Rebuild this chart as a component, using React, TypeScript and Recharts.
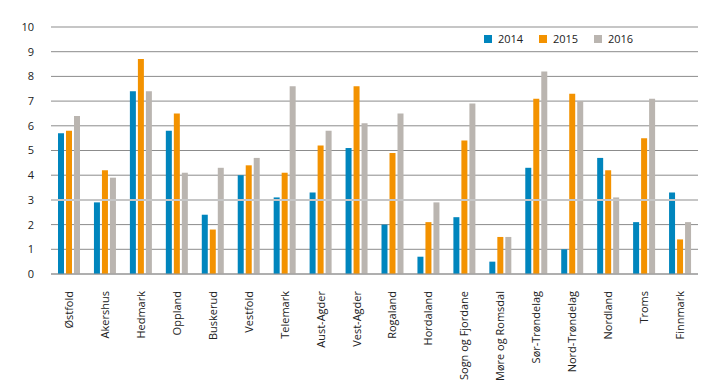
import { BarChart, Bar, XAxis, YAxis, CartesianGrid, Legend, ReferenceLine } from 'recharts';

const fylker = [
  'Østfold', 'Akershus', 'Hedmark', 'Oppland', 'Buskerud', 'Vestfold', 'Telemark', 'Aust-Agder', 'Vest-Agder',
  'Rogaland', 'Hordaland', 'Sogn og Fjordane', 'Møre og Romsdal', 'Sør-Trøndelag', 'Nord-Trøndelag',
  'Nordland', 'Troms', 'Finnmark',
];
const v2014 = [5.7, 2.9, 7.4, 5.8, 2.4, 4.0, 3.1, 3.3, 5.1, 2.0, 0.7, 2.3, 0.5, 4.3, 1.0, 4.7, 2.1, 3.3];
const v2015 = [5.8, 4.2, 8.7, 6.5, 1.8, 4.4, 4.1, 5.2, 7.6, 4.9, 2.1, 5.4, 1.5, 7.1, 7.3, 4.2, 5.5, 1.4];
const v2016 = [6.4, 3.9, 7.4, 4.1, 4.3, 4.7, 7.6, 5.8, 6.1, 6.5, 2.9, 6.9, 1.5, 8.2, 7.0, 3.1, 7.1, 2.1];
const yTicks = [0, 1, 2, 3, 4, 5, 6, 7, 8, 9, 10];

const series = [
  { key: '2014', color: '#0085bd' },
  { key: '2015', color: '#f39200' },
  { key: '2016', color: '#bab5b0' },
];

const data = fylker.map((name, i) => ({ name, '2014': v2014[i], '2015': v2015[i], '2016': v2016[i] }));

const FONT = '"Open Sans", sans-serif';

const XTick = ({ x, y, payload }: any) => (
  <g transform={`translate(${x},${y})`}>
    <text transform="rotate(-90)" x={-9} y={4} textAnchor="end" fontSize={11} fill="#222" fontFamily={FONT}>
      {payload.value}
    </text>
  </g>
);

const LegendContent = () => (
  <div style={{ display: 'flex', fontFamily: FONT, fontSize: 11, color: '#222' }}>
    {series.map((s) => (
      <div key={s.key} style={{ display: 'flex', alignItems: 'center', width: 55 }}>
        <span style={{ width: 8, height: 8, background: s.color, marginRight: 6 }} />
        <span>{s.key}</span>
      </div>
    ))}
  </div>
);

export default function App() {
  return (
    <div style={{ position: 'absolute', left: 0, top: 0, background: '#fff' }}>
      <BarChart width={719} height={383} data={data} margin={{ top: 27, right: 21, left: 0, bottom: 0 }} barSize={6} barGap={2}>
        <CartesianGrid vertical={false} stroke="#8c8c8c" />
        <ReferenceLine y={10} stroke="#c6c6c6" strokeWidth={2} />
        <ReferenceLine y={3} stroke="#c6c6c6" strokeWidth={2} />
        <XAxis dataKey="name" interval={0} height={109} tick={<XTick />} tickLine={false} axisLine={{ stroke: '#999' }} />
        <YAxis
          width={51}
          domain={[0, 10]}
          ticks={yTicks}
          tickLine={false}
          axisLine={false}
          tickMargin={11}
          tick={{ fontSize: 11, fill: '#222', fontFamily: FONT }}
        />
        <Legend
          layout="horizontal"
          verticalAlign="middle"
          content={<LegendContent />}
          wrapperStyle={{ top: 31, left: 484, width: 180, height: 16 }}
        />
        {series.map((s) => (
          <Bar key={s.key} dataKey={s.key} fill={s.color} isAnimationActive={false} />
        ))}
      </BarChart>
    </div>
  );
}
